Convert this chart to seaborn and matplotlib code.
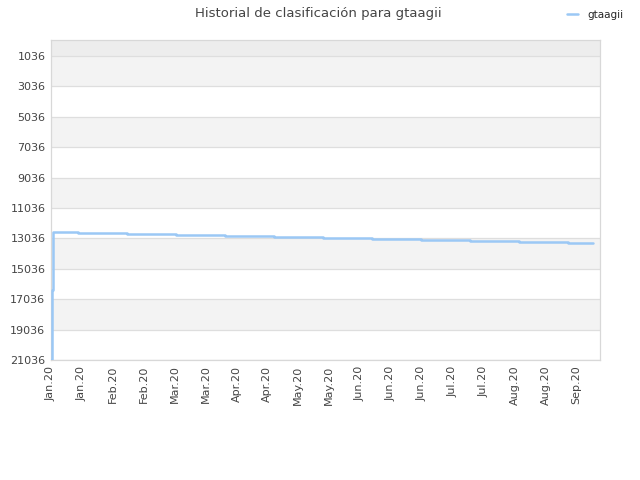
import matplotlib
matplotlib.use("Agg")
import matplotlib.pyplot as plt
import seaborn as sns
import pandas as pd

# data
days = [0, 0.47, 0.94, 12.7, 35.7, 58.7, 81.7, 104.6, 127.6, 150.6, 173.6,
        196.6, 219.6, 242.6, 254.3]
ranks = [21036, 16430, 12615, 12681, 12747, 12813, 12879, 12945, 13011, 13077,
         13143, 13209, 13275, 13341, 13341]
tick_labels = ["Jan.20", "Jan.20", "Feb.20", "Feb.20", "Mar.20", "Mar.20",
               "Apr.20", "Apr.20", "May.20", "May.20", "Jun.20", "Jun.20",
               "Jun.20", "Jul.20", "Jul.20", "Aug.20", "Aug.20", "Sep.20"]
y_ticks = [1036, 3036, 5036, 7036, 9036, 11036, 13036, 15036, 17036, 19036, 21036]
series_name = "gtaagii"
title = "Historial de clasificación para gtaagii"

sns.set_theme(style="white")
plt.rcParams['font.family'] = ['DejaVu Sans']

df = pd.DataFrame({"day": days, "rank": ranks, "serie": series_name})

fig = plt.figure(figsize=(6.4, 4.8), dpi=100)
ax = fig.add_axes([51/640, 120/480, 549/640, 320/480])

# alternating bands
ax.axhspan(-17, y_ticks[0], color="#ededed", zorder=0, lw=0)
for i in range(len(y_ticks) - 1):
    c = "#f3f3f3" if i % 2 == 0 else "#ffffff"
    ax.axhspan(y_ticks[i], y_ticks[i+1], color=c, zorder=0, lw=0)
for yv in y_ticks:
    ax.axhline(yv, color="#dedede", lw=0.9, zorder=1)

sns.lineplot(data=df, x="day", y="rank", hue="serie", palette=["#9bc8f5"],
             drawstyle="steps-post", lw=1.8, ax=ax, zorder=3, legend=True)

ax.set_ylim(21036, -17)
ax.set_xlim(0, 257.6)
ax.set_yticks(y_ticks)
ax.set_yticklabels([str(v) for v in y_ticks], fontsize=8, color="#444444")
xt = [i * 14.5 for i in range(len(tick_labels))]
ax.set_xticks(xt)
ax.set_xticklabels(tick_labels, rotation=90, fontsize=8, color="#444444")
ax.tick_params(axis="both", length=0, pad=4)
ax.set_xlabel("")
ax.set_ylabel("")
for s in ax.spines.values():
    s.set_color("#d8d8d8")
    s.set_linewidth(0.9)

fig.text(318/640, 1 - 13/480, title, ha="center", va="center",
         fontsize=9.5, color="#444444")

handles, labels = ax.get_legend_handles_labels()
ax.legend(handles, labels, loc="center left", bbox_to_anchor=(558/640, 1 - 15/480),
          bbox_transform=fig.transFigure, frameon=False, fontsize=7.5,
          handlelength=1.0, handletextpad=0.9)

fig.savefig("out.png", dpi=100)
